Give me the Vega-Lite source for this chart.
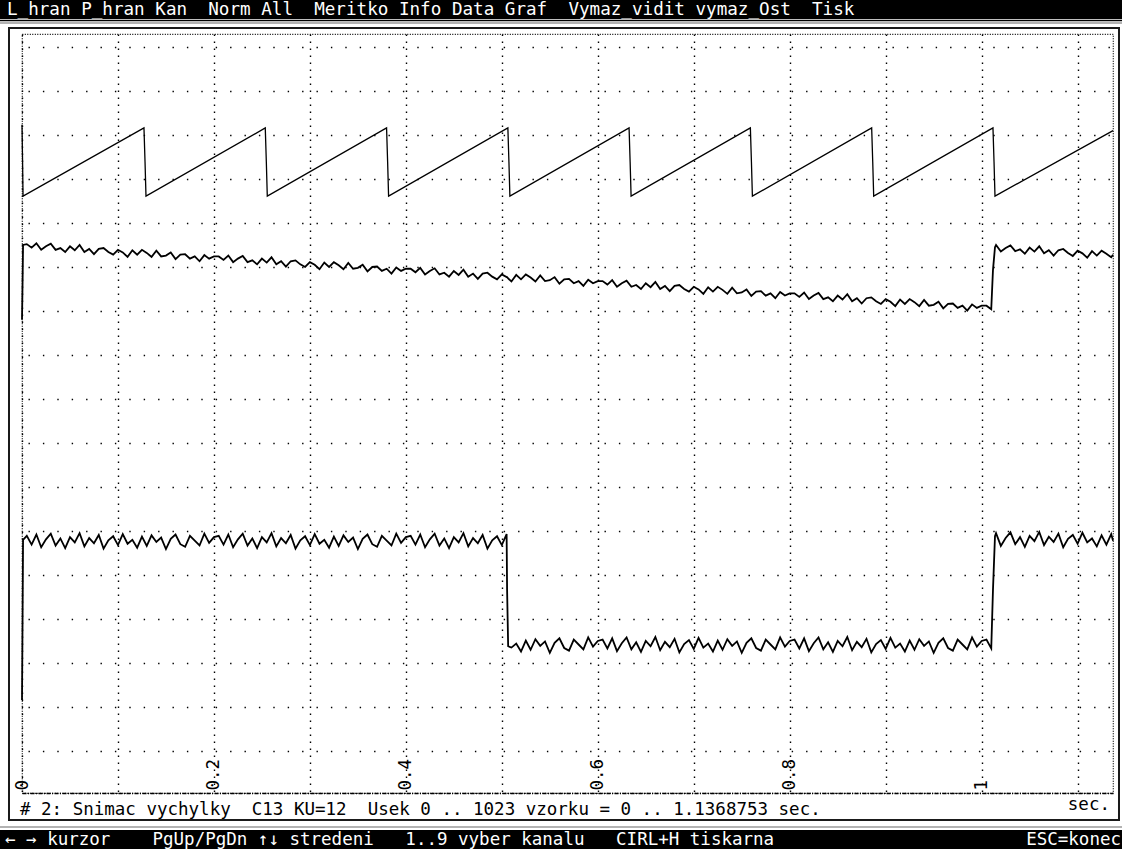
{
"$schema": "https://vega.github.io/schema/vega-lite/v6.json",
"width": 1091, "height": 759,
"autosize": {"type": "none"},
"padding": {"left": 22, "top": 34, "right": 9, "bottom": 56},
"background": "#ffffff",
"config": {"view": {"stroke": "#000", "strokeWidth": 1.2, "strokeDash": [1, 1.5]}},
"resolve": {"axis": {"x": "independent", "y": "independent"}},
"datasets": {
"saw": [
{"t":0,"v":14.23},{"t":0.0006,"v":13.39},{"t":0.0011,"v":12.61},
{"t":0.1271,"v":14.16},{"t":0.1282,"v":13.39},{"t":0.1292,"v":12.61},
{"t":0.2535,"v":14.16},{"t":0.2546,"v":13.39},{"t":0.2556,"v":12.61},
{"t":0.3799,"v":14.16},{"t":0.381,"v":13.39},{"t":0.382,"v":12.61},
{"t":0.5063,"v":14.16},{"t":0.5074,"v":13.39},{"t":0.5084,"v":12.61},
{"t":0.6326,"v":14.16},{"t":0.6337,"v":13.39},{"t":0.6347,"v":12.61},
{"t":0.759,"v":14.16},{"t":0.7601,"v":13.39},{"t":0.7611,"v":12.61},
{"t":0.8854,"v":14.16},{"t":0.8865,"v":13.39},{"t":0.8875,"v":12.61},
{"t":1.0118,"v":14.16},{"t":1.0129,"v":13.39},{"t":1.0139,"v":12.61},
{"t":1.1369,"v":14.1}
],
"sig": [
{"t":0,"b":9.8,"c":1.16},{"t":0.0006,"b":10.65,"c":3.0},{"t":0.0011,"b":11.5,"c":4.8},
{"t":0.005,"b":11.52,"c":4.89},{"t":0.01,"b":11.44,"c":4.69},{"t":0.015,"b":11.54,"c":4.92},{"t":0.02,"b":11.39,"c":4.63},{"t":0.025,"b":11.47,"c":4.81},
{"t":0.03,"b":11.53,"c":4.94},{"t":0.035,"b":11.39,"c":4.67},{"t":0.04,"b":11.43,"c":4.83},{"t":0.045,"b":11.34,"c":4.61},{"t":0.05,"b":11.47,"c":4.86},
{"t":0.055,"b":11.38,"c":4.74},{"t":0.06,"b":11.5,"c":4.95},{"t":0.065,"b":11.34,"c":4.65},{"t":0.07,"b":11.41,"c":4.84},{"t":0.075,"b":11.29,"c":4.72},
{"t":0.08,"b":11.41,"c":4.91},{"t":0.085,"b":11.43,"c":4.6},{"t":0.09,"b":11.34,"c":4.79},{"t":0.095,"b":11.28,"c":4.88},{"t":0.1,"b":11.39,"c":4.68},
{"t":0.105,"b":11.33,"c":4.93},{"t":0.11,"b":11.23,"c":4.71},{"t":0.115,"b":11.38,"c":4.8},{"t":0.12,"b":11.28,"c":4.62},{"t":0.125,"b":11.39,"c":4.87},
{"t":0.13,"b":11.32,"c":4.66},{"t":0.135,"b":11.23,"c":4.9},{"t":0.14,"b":11.37,"c":4.75},{"t":0.145,"b":11.24,"c":4.85},{"t":0.15,"b":11.26,"c":4.59},
{"t":0.155,"b":11.33,"c":4.82},{"t":0.16,"b":11.18,"c":4.92},{"t":0.165,"b":11.28,"c":4.7},{"t":0.17,"b":11.29,"c":4.64},{"t":0.175,"b":11.19,"c":4.89},
{"t":0.18,"b":11.24,"c":4.78},{"t":0.185,"b":11.13,"c":4.67},{"t":0.19,"b":11.27,"c":4.94},{"t":0.195,"b":11.19,"c":4.73},{"t":0.2,"b":11.24,"c":4.86},
{"t":0.205,"b":11.24,"c":4.89},{"t":0.21,"b":11.16,"c":4.69},{"t":0.215,"b":11.26,"c":4.92},{"t":0.22,"b":11.11,"c":4.63},{"t":0.225,"b":11.19,"c":4.81},
{"t":0.23,"b":11.25,"c":4.94},{"t":0.235,"b":11.11,"c":4.67},{"t":0.24,"b":11.15,"c":4.83},{"t":0.245,"b":11.06,"c":4.61},{"t":0.25,"b":11.19,"c":4.86},
{"t":0.255,"b":11.1,"c":4.74},{"t":0.26,"b":11.22,"c":4.95},{"t":0.265,"b":11.06,"c":4.65},{"t":0.27,"b":11.13,"c":4.84},{"t":0.275,"b":11.01,"c":4.72},
{"t":0.28,"b":11.13,"c":4.91},{"t":0.285,"b":11.15,"c":4.6},{"t":0.29,"b":11.06,"c":4.79},{"t":0.295,"b":11.0,"c":4.88},{"t":0.3,"b":11.11,"c":4.68},
{"t":0.305,"b":11.05,"c":4.93},{"t":0.31,"b":10.95,"c":4.71},{"t":0.315,"b":11.1,"c":4.8},{"t":0.32,"b":11.0,"c":4.62},{"t":0.325,"b":11.11,"c":4.87},
{"t":0.33,"b":11.04,"c":4.66},{"t":0.335,"b":10.95,"c":4.9},{"t":0.34,"b":11.09,"c":4.75},{"t":0.345,"b":10.96,"c":4.85},{"t":0.35,"b":10.98,"c":4.59},
{"t":0.355,"b":11.05,"c":4.82},{"t":0.36,"b":10.9,"c":4.92},{"t":0.365,"b":11.0,"c":4.7},{"t":0.37,"b":11.01,"c":4.64},{"t":0.375,"b":10.91,"c":4.89},
{"t":0.38,"b":10.96,"c":4.78},{"t":0.385,"b":10.85,"c":4.67},{"t":0.39,"b":10.99,"c":4.94},{"t":0.395,"b":10.91,"c":4.73},{"t":0.4,"b":10.96,"c":4.86},
{"t":0.405,"b":10.96,"c":4.89},{"t":0.41,"b":10.88,"c":4.69},{"t":0.415,"b":10.98,"c":4.92},{"t":0.42,"b":10.83,"c":4.63},{"t":0.425,"b":10.91,"c":4.81},
{"t":0.43,"b":10.97,"c":4.94},{"t":0.435,"b":10.83,"c":4.67},{"t":0.44,"b":10.87,"c":4.83},{"t":0.445,"b":10.78,"c":4.61},{"t":0.45,"b":10.91,"c":4.86},
{"t":0.455,"b":10.82,"c":4.74},{"t":0.46,"b":10.94,"c":4.95},{"t":0.465,"b":10.78,"c":4.65},{"t":0.47,"b":10.85,"c":4.84},{"t":0.475,"b":10.73,"c":4.72},
{"t":0.48,"b":10.85,"c":4.91},{"t":0.485,"b":10.87,"c":4.6},{"t":0.49,"b":10.78,"c":4.79},{"t":0.495,"b":10.72,"c":4.88},{"t":0.5,"b":10.83,"c":4.68},
{"t":0.505,"b":10.77,"c":4.93},{"t":0.5055,"b":10.77,"c":3.66},{"t":0.5066,"b":10.74,"c":2.38},
{"t":0.51,"b":10.67,"c":2.35},{"t":0.515,"b":10.82,"c":2.44},{"t":0.52,"b":10.72,"c":2.26},{"t":0.525,"b":10.83,"c":2.51},{"t":0.53,"b":10.76,"c":2.3},
{"t":0.535,"b":10.67,"c":2.54},{"t":0.54,"b":10.81,"c":2.39},{"t":0.545,"b":10.68,"c":2.49},{"t":0.55,"b":10.7,"c":2.23},{"t":0.555,"b":10.77,"c":2.46},
{"t":0.56,"b":10.62,"c":2.56},{"t":0.565,"b":10.72,"c":2.34},{"t":0.57,"b":10.73,"c":2.28},{"t":0.575,"b":10.63,"c":2.53},{"t":0.58,"b":10.68,"c":2.42},
{"t":0.585,"b":10.57,"c":2.31},{"t":0.59,"b":10.71,"c":2.58},{"t":0.595,"b":10.63,"c":2.37},{"t":0.6,"b":10.68,"c":2.5},{"t":0.605,"b":10.68,"c":2.53},
{"t":0.61,"b":10.6,"c":2.33},{"t":0.615,"b":10.7,"c":2.56},{"t":0.62,"b":10.55,"c":2.27},{"t":0.625,"b":10.63,"c":2.45},{"t":0.63,"b":10.69,"c":2.58},
{"t":0.635,"b":10.55,"c":2.31},{"t":0.64,"b":10.59,"c":2.47},{"t":0.645,"b":10.5,"c":2.25},{"t":0.65,"b":10.63,"c":2.5},{"t":0.655,"b":10.54,"c":2.38},
{"t":0.66,"b":10.66,"c":2.59},{"t":0.665,"b":10.5,"c":2.29},{"t":0.67,"b":10.57,"c":2.48},{"t":0.675,"b":10.45,"c":2.36},{"t":0.68,"b":10.57,"c":2.55},
{"t":0.685,"b":10.59,"c":2.24},{"t":0.69,"b":10.5,"c":2.43},{"t":0.695,"b":10.44,"c":2.52},{"t":0.7,"b":10.55,"c":2.32},{"t":0.705,"b":10.49,"c":2.57},
{"t":0.71,"b":10.39,"c":2.35},{"t":0.715,"b":10.54,"c":2.44},{"t":0.72,"b":10.44,"c":2.26},{"t":0.725,"b":10.55,"c":2.51},{"t":0.73,"b":10.48,"c":2.3},
{"t":0.735,"b":10.39,"c":2.54},{"t":0.74,"b":10.53,"c":2.39},{"t":0.745,"b":10.4,"c":2.49},{"t":0.75,"b":10.42,"c":2.23},{"t":0.755,"b":10.49,"c":2.46},
{"t":0.76,"b":10.34,"c":2.56},{"t":0.765,"b":10.44,"c":2.34},{"t":0.77,"b":10.45,"c":2.28},{"t":0.775,"b":10.35,"c":2.53},{"t":0.78,"b":10.4,"c":2.42},
{"t":0.785,"b":10.29,"c":2.31},{"t":0.79,"b":10.43,"c":2.58},{"t":0.795,"b":10.35,"c":2.37},{"t":0.8,"b":10.4,"c":2.5},{"t":0.805,"b":10.4,"c":2.53},
{"t":0.81,"b":10.32,"c":2.33},{"t":0.815,"b":10.42,"c":2.56},{"t":0.82,"b":10.27,"c":2.27},{"t":0.825,"b":10.35,"c":2.45},{"t":0.83,"b":10.41,"c":2.58},
{"t":0.835,"b":10.27,"c":2.31},{"t":0.84,"b":10.31,"c":2.47},{"t":0.845,"b":10.22,"c":2.25},{"t":0.85,"b":10.35,"c":2.5},{"t":0.855,"b":10.26,"c":2.38},
{"t":0.86,"b":10.38,"c":2.59},{"t":0.865,"b":10.22,"c":2.29},{"t":0.87,"b":10.29,"c":2.48},{"t":0.875,"b":10.17,"c":2.36},{"t":0.88,"b":10.29,"c":2.55},
{"t":0.885,"b":10.31,"c":2.24},{"t":0.89,"b":10.22,"c":2.43},{"t":0.895,"b":10.16,"c":2.52},{"t":0.9,"b":10.27,"c":2.32},{"t":0.905,"b":10.21,"c":2.57},
{"t":0.91,"b":10.11,"c":2.35},{"t":0.915,"b":10.26,"c":2.44},{"t":0.92,"b":10.16,"c":2.26},{"t":0.925,"b":10.27,"c":2.51},{"t":0.93,"b":10.2,"c":2.3},
{"t":0.935,"b":10.11,"c":2.54},{"t":0.94,"b":10.25,"c":2.39},{"t":0.945,"b":10.12,"c":2.49},{"t":0.95,"b":10.14,"c":2.23},{"t":0.955,"b":10.21,"c":2.46},
{"t":0.96,"b":10.06,"c":2.56},{"t":0.965,"b":10.16,"c":2.34},{"t":0.97,"b":10.17,"c":2.28},{"t":0.975,"b":10.07,"c":2.53},{"t":0.98,"b":10.12,"c":2.42},
{"t":0.985,"b":10.01,"c":2.31},{"t":0.99,"b":10.15,"c":2.58},{"t":0.995,"b":10.07,"c":2.37},{"t":1.0,"b":10.12,"c":2.5},{"t":1.005,"b":10.12,"c":2.53},
{"t":1.01,"b":10.04,"c":2.33},{"t":1.0118,"b":10.93,"c":3.66},{"t":1.0139,"b":11.45,"c":4.88},
{"t":1.015,"b":11.5,"c":4.95},{"t":1.02,"b":11.35,"c":4.66},{"t":1.025,"b":11.43,"c":4.84},{"t":1.03,"b":11.49,"c":4.97},{"t":1.035,"b":11.36,"c":4.7},
{"t":1.04,"b":11.4,"c":4.86},{"t":1.045,"b":11.3,"c":4.64},{"t":1.05,"b":11.44,"c":4.89},{"t":1.055,"b":11.35,"c":4.77},{"t":1.06,"b":11.47,"c":4.98},
{"t":1.065,"b":11.31,"c":4.68},{"t":1.07,"b":11.38,"c":4.87},{"t":1.075,"b":11.26,"c":4.75},{"t":1.08,"b":11.38,"c":4.94},{"t":1.085,"b":11.41,"c":4.63},
{"t":1.09,"b":11.32,"c":4.82},{"t":1.095,"b":11.25,"c":4.91},{"t":1.1,"b":11.37,"c":4.71},{"t":1.105,"b":11.31,"c":4.96},{"t":1.11,"b":11.21,"c":4.74},
{"t":1.115,"b":11.36,"c":4.83},{"t":1.12,"b":11.26,"c":4.65},{"t":1.125,"b":11.37,"c":4.9},{"t":1.13,"b":11.3,"c":4.69},{"t":1.135,"b":11.22,"c":4.93},
{"t":1.1369,"b":11.28,"c":4.78}
]
},
"layer": [
{
"data": {"name": "saw"},
"mark": {"type": "line", "color": "#000", "strokeWidth": 1.3},
"encoding": {
"x": {"field": "t", "type": "quantitative", "scale": {"domain": [0, 1.1368753], "nice": false, "zero": false},
"axis": {"title": null, "values": [0,0.1,0.2,0.3,0.4,0.5,0.6,0.7,0.8,0.9,1,1.1], "grid": true, "gridColor": "#000", "gridOpacity": 1, "gridWidth": 1.4, "gridDash": [1.4, 5.6],
"ticks": false, "tickSize": 0, "domain": true, "domainColor": "#000", "domainWidth": 1.4, "domainDash": [4, 1.5, 1, 1.5],
"labelAngle": 270, "labelAlign": "left", "labelBaseline": "middle", "labelPadding": -3, "labelFont": "DejaVu Sans Mono", "labelFontSize": 17.5, "labelColor": "#000",
"labelFlush": false, "labelOverlap": false, "labelBound": false, "labelExpr": "round(datum.value*10) % 2 == 0 ? format(datum.value, '~g') : ''"}},
"y": {"field": "v", "type": "quantitative", "scale": {"domain": [-0.955, 16.295], "nice": false, "zero": false},
"axis": {"title": null, "values": [0,1,2,3,4,5,6,7,8,9,10,11,12,13,14,15,16], "grid": true, "gridColor": "#000", "gridOpacity": 1, "gridWidth": 1.4, "gridDash": [1.4, 13], "gridDashOffset": 8.4,
"ticks": false, "labels": false, "domain": false}}
}
},
{
"data": {"name": "sig"},
"mark": {"type": "line", "color": "#000", "strokeWidth": 1.8},
"encoding": {
"x": {"field": "t", "type": "quantitative", "axis": null},
"y": {"field": "b", "type": "quantitative", "axis": null}
}
},
{
"data": {"name": "sig"},
"mark": {"type": "line", "color": "#000", "strokeWidth": 1.8},
"encoding": {
"x": {"field": "t", "type": "quantitative", "axis": null},
"y": {"field": "c", "type": "quantitative", "axis": null}
}
},
{
"data": {"values": [{}]},
"mark": {"type": "rect", "color": "#000", "clip": false},
"encoding": {
"x": {"datum": -0.02293, "type": "quantitative", "axis": null}, "x2": {"datum": 1.14625},
"y": {"datum": 17.068, "type": "quantitative", "axis": null}, "y2": {"datum": 16.636}
}
},
{
"data": {"values": [{}]},
"mark": {"type": "rule", "color": "#000", "strokeWidth": 1.5, "clip": false},
"encoding": {
"x": {"datum": -0.02293, "type": "quantitative", "axis": null}, "x2": {"datum": 1.14625},
"y": {"datum": 16.602, "type": "quantitative", "axis": null}
}
},
{
"data": {"values": [{}]},
"mark": {"type": "rule", "color": "#9a9a9a", "strokeWidth": 1.5, "clip": false},
"encoding": {
"x": {"datum": -0.02293, "type": "quantitative", "axis": null}, "x2": {"datum": 1.14625},
"y": {"datum": 16.545, "type": "quantitative", "axis": null}
}
},
{
"data": {"values": [{}]},
"mark": {"type": "rect", "filled": false, "stroke": "#1a1a1a", "strokeWidth": 2, "clip": false},
"encoding": {
"x": {"datum": -0.01355, "type": "quantitative", "axis": null}, "x2": {"datum": 1.14312},
"y": {"datum": 16.431, "type": "quantitative", "axis": null}, "y2": {"datum": -1.569}
}
},
{
"data": {"values": [{}]},
"mark": {"type": "rule", "color": "#9a9a9a", "strokeWidth": 1.5, "clip": false},
"encoding": {
"x": {"datum": -0.02293, "type": "quantitative", "axis": null}, "x2": {"datum": 1.14625},
"y": {"datum": -1.728, "type": "quantitative", "axis": null}
}
},
{
"data": {"values": [{}]},
"mark": {"type": "rect", "color": "#000", "clip": false},
"encoding": {
"x": {"datum": -0.02293, "type": "quantitative", "axis": null}, "x2": {"datum": 1.14625},
"y": {"datum": -1.796, "type": "quantitative", "axis": null}, "y2": {"datum": -2.228}
}
},
{
"data": {"values": [{}]},
"mark": {"type": "text", "align": "left", "baseline": "middle", "font": "DejaVu Sans Mono", "fontSize": 17.6, "color": "#fff", "clip": false},
"encoding": {
"x": {"datum": -0.01563, "type": "quantitative", "axis": null},
"y": {"datum": 16.84, "type": "quantitative", "axis": null},
"text": {"value": "L_hran P_hran Kan\u00a0\u00a0Norm All\u00a0\u00a0Meritko Info Data Graf\u00a0\u00a0Vymaz_vidit vymaz_Ost\u00a0\u00a0Tisk"}
}
},
{
"data": {"values": [{}]},
"mark": {"type": "text", "align": "left", "baseline": "middle", "font": "DejaVu Sans Mono", "fontSize": 17.5, "color": "#000", "clip": false},
"encoding": {
"x": {"datum": -0.00208, "type": "quantitative", "axis": null},
"y": {"datum": -1.341, "type": "quantitative", "axis": null},
"text": {"value": "# 2: Snimac vychylky\u00a0\u00a0C13 KU=12\u00a0\u00a0Usek 0 .. 1023 vzorku = 0 .. 1.1368753 sec."}
}
},
{
"data": {"values": [{}]},
"mark": {"type": "text", "align": "right", "baseline": "middle", "font": "DejaVu Sans Mono", "fontSize": 17.5, "color": "#000", "clip": false},
"encoding": {
"x": {"datum": 1.13374, "type": "quantitative", "axis": null},
"y": {"datum": -1.228, "type": "quantitative", "axis": null},
"text": {"value": "sec."}
}
},
{
"data": {"values": [{}]},
"mark": {"type": "text", "align": "left", "baseline": "middle", "font": "DejaVu Sans Mono", "fontSize": 17.5, "color": "#fff", "clip": false},
"encoding": {
"x": {"datum": -0.01771, "type": "quantitative", "axis": null},
"y": {"datum": -2.023, "type": "quantitative", "axis": null},
"text": {"value": "← → kurzor\u00a0\u00a0\u00a0\u00a0PgUp/PgDn ↑↓ stredeni\u00a0\u00a0\u00a01..9 vyber kanalu\u00a0\u00a0\u00a0CIRL+H tiskarna"}
}
},
{
"data": {"values": [{}]},
"mark": {"type": "text", "align": "right", "baseline": "middle", "font": "DejaVu Sans Mono", "fontSize": 17.5, "color": "#fff", "clip": false},
"encoding": {
"x": {"datum": 1.14521, "type": "quantitative", "axis": null},
"y": {"datum": -2.023, "type": "quantitative", "axis": null},
"text": {"value": "ESC=konec"}
}
}
]
}
